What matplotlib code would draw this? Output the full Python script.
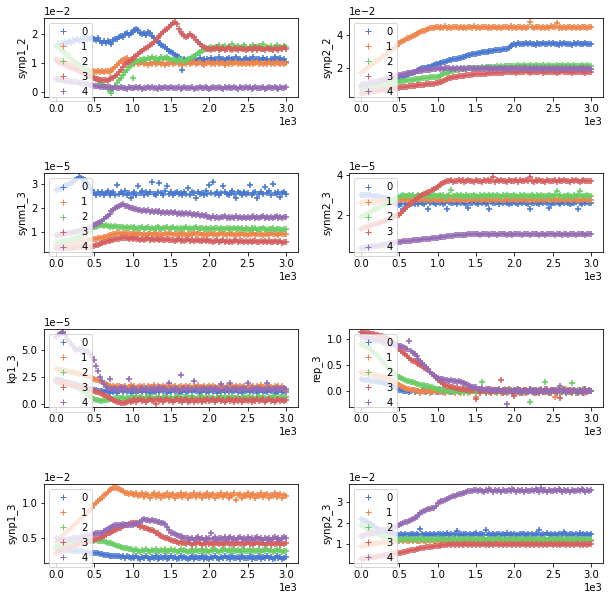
import matplotlib.pyplot as plt
import numpy as np
import seaborn as sns

# sample index (every 25th step of the run)
steps = np.arange(0, 3001, 25)
labels = ['0', '1', '2', '3', '4']

# values are in units of the axis offset (1e-2 / 1e-5 / 1)
synp1_2 = [
    [1.60, 1.66, 1.58, 1.70, 1.65, 1.74, 1.68, 1.78, 1.72, 1.80,
     1.76, 1.84, 1.78, 1.86, 1.80, 1.90, 1.82, 1.88, 1.84, 1.92,
     1.85, 1.80, 1.88, 1.76, 1.72, 1.78, 1.70, 1.76, 1.74, 1.68,
     1.80, 1.84, 1.86, 1.92, 1.95, 1.90, 2.00, 2.04, 1.98, 2.06,
     2.10, 2.14, 2.20, 2.16, 2.04, 2.00, 2.06, 1.98, 2.10, 2.04,
     1.95, 1.88, 1.80, 1.76, 1.70, 1.64, 1.60, 1.55, 1.48, 1.42,
     1.38, 1.34, 1.30, 1.24, 1.20, 1.16, 0.78, 1.14, 1.12, 1.08,
     1.14, 1.10, 1.16, 1.08, 1.12, 1.18, 1.10, 1.14, 1.08, 1.16,
     1.12, 1.18, 1.10, 1.15, 1.08, 1.20, 1.12, 1.16, 1.10, 1.14,
     1.18, 1.08, 1.14, 1.12, 1.20, 1.10, 1.16, 1.08, 1.14, 1.18,
     1.10, 1.15, 1.12, 1.20, 1.08, 1.14, 1.16, 1.10, 1.18, 1.12,
     1.14, 1.08, 1.16, 1.12, 1.20, 1.10, 1.14, 1.18, 1.08, 1.15,
     1.05],
    [1.15, 1.12, 1.10, 1.08, 1.05, 1.02, 1.00, 0.98, 0.95, 0.93,
     0.90, 0.88, 0.86, 0.84, 0.82, 0.80, 0.78, 0.76, 0.74, 0.73,
     0.72, 0.70, 0.74, 0.71, 0.73, 0.70, 0.74, 0.72, 0.70, 0.75,
     0.80, 0.88, 0.95, 1.02, 1.08, 1.12, 1.14, 1.18, 1.10, 1.06,
     1.02, 0.98, 1.03, 0.96, 1.00, 1.04, 0.97, 1.01, 0.95, 1.02,
     0.98, 1.03, 0.96, 1.01, 1.04, 0.97, 1.00, 0.95, 1.02, 0.99,
     1.03, 0.96, 1.00, 1.04, 0.98, 1.01, 0.95, 1.02, 0.99, 1.03,
     0.97, 1.01, 1.04, 0.96, 1.00, 1.03, 0.98, 0.95, 1.02, 1.00,
     1.04, 0.97, 1.01, 0.99, 1.03, 0.96, 1.00, 1.02, 0.95, 1.01,
     0.98, 1.03, 0.96, 1.01, 1.04, 0.97, 1.00, 0.99, 1.02, 0.96,
     1.01, 0.98, 1.04, 0.96, 1.00, 1.03, 0.97, 1.01, 0.99, 1.02,
     0.96, 1.03, 0.99, 1.01, 0.97, 1.04, 1.00, 0.98, 1.02, 0.97,
     1.00],
    [1.60, 1.56, 1.50, 1.46, 1.40, 1.35, 1.30, 1.24, 1.18, 1.12,
     1.05, 1.00, 0.95, 0.90, 0.85, 0.80, 0.74, 0.68, 0.62, 0.58,
     0.50, 0.46, 0.40, 0.34, 0.28, 0.22, 0.16, 0.10, 0.04, -0.04,
     0.10, 0.18, 0.30, 0.40, 0.50, 0.60, 0.70, 0.78, 0.86, 0.92,
     0.50, 1.00, 1.05, 1.08, 1.12, 1.10, 1.16, 1.12, 1.18, 1.14,
     1.20, 1.15, 1.18, 1.12, 1.16, 1.20, 1.14, 1.18, 1.22, 1.16,
     1.12, 1.16, 1.10, 1.08, 1.14, 1.10, 1.12, 1.06, 1.10, 1.14,
     1.16, 1.20, 1.24, 1.30, 1.34, 1.38, 1.42, 1.46, 1.50, 1.48,
     1.52, 1.56, 1.50, 1.58, 1.54, 1.62, 1.50, 1.56, 1.60, 1.52,
     1.58, 1.54, 1.66, 1.50, 1.56, 1.60, 1.54, 1.52, 1.62, 1.56,
     1.50, 1.58, 1.55, 1.62, 1.52, 1.56, 1.60, 1.54, 1.66, 1.52,
     1.58, 1.54, 1.60, 1.50, 1.56, 1.62, 1.54, 1.58, 1.52, 1.60,
     1.55],
    [1.10, 1.06, 1.02, 1.00, 0.96, 0.94, 0.90, 0.88, 0.85, 0.82,
     0.80, 0.76, 0.72, 0.70, 0.66, 0.64, 0.60, 0.57, 0.54, 0.52,
     0.48, 0.46, 0.44, 0.42, 0.42, 0.40, 0.41, 0.39, 0.45, 0.48,
     0.50, 0.55, 0.60, 0.68, 0.75, 0.86, 0.96, 1.00, 1.05, 1.10,
     1.14, 1.20, 1.26, 1.32, 1.38, 1.44, 1.48, 1.52, 1.56, 1.62,
     1.68, 1.74, 1.80, 1.88, 1.95, 2.02, 2.10, 2.15, 2.20, 2.26,
     2.33, 2.40, 2.45, 2.35, 2.20, 2.10, 2.00, 1.95, 1.90, 1.96,
     2.00, 1.96, 1.90, 1.82, 1.75, 1.68, 1.60, 1.56, 1.52, 1.50,
     1.50, 1.46, 1.52, 1.48, 1.55, 1.45, 1.50, 1.53, 1.47, 1.51,
     1.55, 1.48, 1.45, 1.52, 1.50, 1.46, 1.54, 1.48, 1.51, 1.45,
     1.50, 1.53, 1.47, 1.51, 1.55, 1.46, 1.52, 1.48, 1.50, 1.45,
     1.53, 1.48, 1.51, 1.46, 1.54, 1.50, 1.47, 1.52, 1.49, 1.55,
     1.50],
    [0.45, 0.44, 0.42, 0.41, 0.40, 0.39, 0.38, 0.37, 0.36, 0.35,
     0.35, 0.33, 0.32, 0.31, 0.30, 0.29, 0.28, 0.26, 0.25, 0.24,
     0.22, 0.21, 0.20, 0.19, 0.18, 0.18, 0.17, 0.16, 0.16, 0.15,
     0.14, 0.16, 0.13, 0.15, 0.17, 0.14, 0.15, 0.12, 0.16, 0.15,
     0.13, 0.15, 0.17, 0.14, 0.16, 0.12, 0.15, 0.14, 0.17, 0.13,
     0.16, 0.14, 0.15, 0.12, 0.17, 0.15, 0.13, 0.16, 0.14, 0.15,
     0.17, 0.13, 0.15, 0.14, 0.16, 0.12, 0.15, 0.17, 0.14, 0.13,
     0.15, 0.16, 0.12, 0.15, 0.14, 0.17, 0.13, 0.15, 0.16, 0.14,
     0.12, 0.15, 0.17, 0.14, 0.13, 0.16, 0.15, 0.12, 0.17, 0.14,
     0.16, 0.13, 0.15, 0.17, 0.14, 0.12, 0.16, 0.15, 0.13, 0.17,
     0.14, 0.16, 0.12, 0.15, 0.17, 0.13, 0.15, 0.14, 0.16, 0.12,
     0.15, 0.17, 0.14, 0.13, 0.16, 0.15, 0.12, 0.17, 0.14, 0.15,
     0.16],
]

synp2_2 = [
    [0.80, 0.83, 0.86, 0.88, 0.90, 0.93, 0.96, 0.98, 1.00, 1.03,
     1.05, 1.08, 1.10, 1.13, 1.15, 1.18, 1.20, 1.23, 1.26, 1.30,
     1.35, 1.40, 1.45, 1.50, 1.55, 1.60, 1.65, 1.70, 1.75, 1.80,
     1.85, 1.90, 1.95, 1.98, 2.00, 2.03, 2.05, 2.10, 2.15, 2.20,
     2.25, 2.28, 2.30, 2.33, 2.35, 2.40, 2.45, 2.48, 2.50, 2.52,
     2.55, 2.58, 2.60, 2.62, 2.65, 2.70, 2.75, 2.78, 2.80, 2.82,
     2.85, 2.88, 2.90, 2.92, 2.95, 2.95, 2.96, 2.98, 3.00, 3.02,
     3.05, 3.08, 3.10, 3.10, 3.12, 3.14, 3.15, 3.20, 3.30, 3.38,
     3.45, 3.40, 3.48, 3.43, 3.46, 3.41, 3.50, 3.44, 3.47, 3.42,
     3.46, 3.40, 3.48, 3.44, 3.42, 3.49, 3.45, 3.41, 3.47, 3.43,
     3.48, 3.42, 3.45, 3.40, 3.47, 3.44, 3.49, 3.41, 3.46, 3.43,
     3.40, 3.47, 3.44, 3.48, 3.42, 3.45, 3.41, 3.49, 3.43, 3.46,
     3.42],
    [1.70, 1.78, 1.86, 1.95, 2.04, 2.12, 2.20, 2.30, 2.38, 2.46,
     2.55, 2.64, 2.72, 2.80, 2.90, 2.98, 3.06, 3.15, 3.24, 3.32,
     3.48, 3.55, 3.62, 3.70, 3.77, 3.82, 3.87, 3.92, 3.96, 4.02,
     4.08, 4.14, 4.20, 4.25, 4.30, 4.34, 4.38, 4.40, 4.42, 4.44,
     4.45, 4.40, 4.48, 4.43, 4.50, 4.42, 4.46, 4.40, 4.48, 4.44,
     4.47, 4.41, 4.49, 4.43, 4.46, 4.40, 4.48, 4.44, 4.42, 4.50,
     4.43, 4.47, 4.41, 4.49, 4.44, 4.46, 4.40, 4.48, 4.43, 4.45,
     4.49, 4.42, 4.46, 4.40, 4.48, 4.44, 4.47, 4.41, 4.50, 4.43,
     4.46, 4.41, 4.48, 4.44, 4.42, 4.49, 4.43, 4.47, 4.80, 4.45,
     4.41, 4.48, 4.44, 4.46, 4.40, 4.49, 4.43, 4.47, 4.42, 4.50,
     4.44, 4.46, 4.70, 4.43, 4.48, 4.42, 4.46, 4.40, 4.49, 4.45,
     4.42, 4.47, 4.43, 4.49, 4.41, 4.46, 4.44, 4.48, 4.40, 4.45,
     4.44],
    [0.75, 0.77, 0.79, 0.81, 0.83, 0.85, 0.87, 0.89, 0.91, 0.93,
     0.95, 0.97, 0.99, 1.01, 1.03, 1.05, 1.07, 1.09, 1.11, 1.13,
     1.15, 1.17, 1.18, 1.20, 1.22, 1.23, 1.25, 1.27, 1.28, 1.30,
     1.32, 1.33, 1.35, 1.36, 1.38, 1.39, 1.40, 1.41, 1.42, 1.44,
     1.45, 1.50, 1.55, 1.60, 1.65, 1.70, 1.74, 1.77, 1.80, 1.83,
     1.85, 1.88, 1.90, 1.92, 1.93, 1.94, 1.95, 1.96, 1.97, 1.97,
     1.98, 2.00, 1.99, 2.02, 2.00, 2.04, 2.02, 2.05, 2.03, 2.06,
     2.04, 2.07, 2.05, 2.08, 2.06, 2.09, 2.07, 2.10, 2.08, 2.11,
     2.12, 2.08, 2.14, 2.10, 2.07, 2.13, 2.09, 2.11, 2.15, 2.08,
     2.10, 2.13, 2.07, 2.12, 2.09, 2.14, 2.08, 2.11, 2.13, 2.09,
     2.12, 2.08, 2.14, 2.10, 2.07, 2.13, 2.09, 2.11, 2.15, 2.08,
     2.10, 2.13, 2.07, 2.12, 2.09, 2.14, 2.08, 2.11, 2.13, 2.09,
     2.10],
    [0.45, 0.47, 0.48, 0.50, 0.52, 0.53, 0.55, 0.57, 0.58, 0.60,
     0.62, 0.63, 0.65, 0.67, 0.68, 0.70, 0.72, 0.73, 0.75, 0.77,
     0.78, 0.80, 0.82, 0.83, 0.85, 0.86, 0.88, 0.89, 0.90, 0.92,
     0.93, 0.94, 0.96, 0.97, 0.98, 0.99, 1.00, 1.02, 1.03, 1.05,
     1.07, 1.12, 1.15, 1.20, 1.25, 1.30, 1.35, 1.38, 1.40, 1.42,
     1.45, 1.48, 1.50, 1.51, 1.52, 1.54, 1.55, 1.57, 1.58, 1.59,
     1.60, 1.61, 1.62, 1.63, 1.63, 1.64, 1.65, 1.66, 1.66, 1.67,
     1.68, 1.69, 1.70, 1.70, 1.70, 1.71, 1.72, 1.72, 1.73, 1.73,
     1.74, 1.70, 1.76, 1.72, 1.75, 1.71, 1.77, 1.73, 1.70, 1.75,
     1.72, 1.76, 1.71, 1.74, 1.77, 1.70, 1.73, 1.75, 1.71, 1.74,
     1.76, 1.72, 1.70, 1.75, 1.73, 1.77, 1.71, 1.74, 1.72, 1.76,
     1.70, 1.74, 1.72, 1.76, 1.71, 1.73, 1.75, 1.70, 1.74, 1.72,
     1.73],
    [0.95, 0.98, 1.00, 1.03, 1.05, 1.08, 1.10, 1.13, 1.15, 1.18,
     1.20, 1.25, 1.28, 1.32, 1.35, 1.38, 1.40, 1.44, 1.48, 1.52,
     1.55, 1.57, 1.60, 1.62, 1.65, 1.67, 1.70, 1.72, 1.75, 1.77,
     1.80, 1.81, 1.82, 1.84, 1.85, 1.87, 1.88, 1.90, 1.92, 1.94,
     1.97, 1.94, 1.98, 1.93, 1.96, 2.00, 1.95, 1.92, 1.97, 1.94,
     1.96, 1.92, 1.98, 1.94, 1.97, 1.91, 1.95, 1.99, 1.93, 1.96,
     1.94, 1.98, 1.92, 1.96, 1.93, 1.97, 1.95, 1.91, 1.98, 1.94,
     1.97, 1.93, 1.95, 1.99, 1.92, 1.96, 1.94, 1.98, 1.93, 1.95,
     1.92, 1.96, 1.94, 1.98, 1.91, 1.95, 1.97, 1.93, 1.96, 1.94,
     1.98, 1.93, 1.95, 1.91, 1.96, 1.94, 1.97, 1.92, 1.95, 1.93,
     1.95, 1.91, 1.97, 1.93, 1.94, 1.98, 1.92, 1.95, 1.93, 1.96,
     1.93, 1.96, 1.92, 1.94, 1.97, 1.91, 1.95, 1.93, 1.96, 1.92,
     1.94],
]

synm1_3 = [
    [2.75, 2.78, 2.80, 2.84, 2.86, 2.90, 2.95, 3.00, 3.05, 3.10,
     3.15, 3.20, 3.30, 3.25, 3.22, 3.15, 3.05, 2.95, 2.85, 2.75,
     2.62, 2.55, 2.68, 2.58, 2.66, 2.52, 2.64, 2.70, 2.56, 2.62,
     2.68, 2.54, 2.95, 2.60, 2.66, 2.58, 2.72, 2.55, 2.64, 2.40,
     2.60, 2.68, 2.56, 2.92, 2.62, 2.70, 2.55, 2.65, 2.58, 2.68,
     3.08, 2.60, 2.54, 2.66, 3.05, 2.62, 2.56, 2.70, 2.90, 2.60,
     2.66, 2.55, 2.62, 2.68, 2.58, 2.64, 2.52, 2.66, 2.60, 2.85,
     2.56, 2.68, 2.62, 2.40, 2.66, 2.58, 2.64, 2.54, 2.70, 2.60,
     2.95, 2.62, 3.08, 2.58, 2.66, 2.54, 2.62, 2.90, 2.68, 2.60,
     2.56, 2.64, 2.70, 2.58, 2.40, 2.66, 2.62, 2.55, 2.68, 2.60,
     2.64, 2.95, 2.56, 2.62, 2.68, 2.40, 2.60, 2.66, 2.58, 2.88,
     2.62, 2.70, 2.56, 3.00, 2.64, 2.58, 2.66, 2.45, 2.62, 2.68,
     2.60],
    [0.45, 0.46, 0.47, 0.48, 0.50, 0.51, 0.52, 0.53, 0.55, 0.56,
     0.57, 0.58, 0.60, 0.61, 0.62, 0.63, 0.65, 0.66, 0.67, 0.68,
     0.70, 0.71, 0.72, 0.74, 0.75, 0.77, 0.80, 0.83, 0.85, 0.88,
     0.90, 0.92, 0.93, 0.94, 0.92, 0.93, 0.91, 0.94, 0.90, 0.92,
     0.89, 0.93, 0.87, 0.91, 0.94, 0.88, 0.92, 0.86, 0.90, 0.93,
     0.88, 0.91, 0.94, 0.87, 0.90, 0.92, 0.86, 0.93, 0.89, 0.91,
     0.94, 0.88, 0.90, 0.92, 0.87, 0.93, 0.89, 0.91, 0.86, 0.90,
     0.92, 0.87, 0.93, 0.89, 0.91, 0.94, 0.88, 0.90, 0.92, 0.86,
     0.90, 0.93, 0.88, 0.91, 0.87, 0.92, 0.94, 0.89, 0.90, 0.88,
     0.93, 0.89, 0.91, 0.86, 0.92, 0.90, 0.88, 0.93, 0.87, 0.91,
     0.88, 0.92, 0.90, 0.94, 0.87, 0.91, 0.89, 0.92, 0.86, 0.90,
     0.91, 0.87, 0.93, 0.89, 0.90, 0.92, 0.88, 0.94, 0.89, 0.91,
     0.90],
    [0.55, 0.56, 0.57, 0.58, 0.60, 0.61, 0.62, 0.64, 0.66, 0.68,
     0.70, 0.73, 0.76, 0.80, 0.85, 0.90, 0.95, 1.00, 1.05, 1.10,
     1.18, 1.22, 1.25, 1.27, 1.30, 1.26, 1.28, 1.24, 1.22, 1.25,
     1.20, 1.23, 1.19, 1.22, 1.18, 1.21, 1.17, 1.20, 1.16, 1.19,
     1.15, 1.19, 1.13, 1.17, 1.14, 1.20, 1.12, 1.16, 1.18, 1.13,
     1.17, 1.12, 1.16, 1.19, 1.14, 1.11, 1.17, 1.15, 1.18, 1.12,
     1.14, 1.18, 1.11, 1.16, 1.13, 1.17, 1.12, 1.15, 1.19, 1.13,
     1.16, 1.12, 1.15, 1.18, 1.11, 1.14, 1.17, 1.12, 1.15, 1.13,
     1.10, 1.15, 1.12, 1.17, 1.14, 1.11, 1.16, 1.13, 1.10, 1.15,
     1.13, 1.16, 1.10, 1.14, 1.12, 1.17, 1.11, 1.14, 1.09, 1.15,
     1.12, 1.08, 1.14, 1.11, 1.15, 1.09, 1.13, 1.10, 1.14, 1.11,
     1.09, 1.13, 1.11, 1.14, 1.08, 1.12, 1.10, 1.13, 1.09, 1.12,
     1.10],
    [0.30, 0.30, 0.31, 0.31, 0.32, 0.32, 0.33, 0.33, 0.34, 0.34,
     0.35, 0.35, 0.35, 0.36, 0.36, 0.37, 0.37, 0.38, 0.38, 0.39,
     0.40, 0.43, 0.46, 0.49, 0.52, 0.55, 0.58, 0.61, 0.63, 0.66,
     0.67, 0.68, 0.70, 0.71, 0.72, 0.73, 0.72, 0.74, 0.71, 0.73,
     0.70, 0.72, 0.68, 0.71, 0.67, 0.70, 0.66, 0.69, 0.72, 0.67,
     0.69, 0.65, 0.68, 0.71, 0.66, 0.68, 0.64, 0.67, 0.70, 0.65,
     0.64, 0.67, 0.62, 0.66, 0.69, 0.63, 0.65, 0.61, 0.66, 0.68,
     0.62, 0.65, 0.60, 0.64, 0.67, 0.61, 0.63, 0.66, 0.60, 0.64,
     0.60, 0.63, 0.58, 0.62, 0.65, 0.59, 0.61, 0.64, 0.57, 0.62,
     0.59, 0.63, 0.57, 0.61, 0.64, 0.58, 0.60, 0.62, 0.56, 0.61,
     0.58, 0.62, 0.56, 0.60, 0.63, 0.57, 0.59, 0.61, 0.55, 0.60,
     0.57, 0.61, 0.55, 0.59, 0.62, 0.56, 0.58, 0.60, 0.54, 0.59,
     0.58],
    [0.85, 0.86, 0.88, 0.89, 0.90, 0.92, 0.93, 0.95, 0.96, 0.98,
     1.00, 1.02, 1.04, 1.06, 1.08, 1.10, 1.12, 1.14, 1.18, 1.22,
     1.28, 1.33, 1.38, 1.40, 1.45, 1.52, 1.60, 1.68, 1.75, 1.85,
     1.92, 1.98, 2.04, 2.08, 2.12, 2.15, 2.10, 2.06, 2.02, 2.00,
     1.98, 1.94, 1.97, 1.91, 1.93, 1.88, 1.92, 1.86, 1.90, 1.84,
     1.88, 1.83, 1.87, 1.82, 1.86, 1.80, 1.84, 1.79, 1.83, 1.78,
     1.82, 1.77, 1.81, 1.76, 1.80, 1.75, 1.79, 1.74, 1.78, 1.73,
     1.77, 1.72, 1.75, 1.70, 1.74, 1.68, 1.71, 1.66, 1.69, 1.63,
     1.62, 1.58, 1.64, 1.59, 1.63, 1.57, 1.62, 1.60, 1.65, 1.58,
     1.61, 1.57, 1.63, 1.59, 1.64, 1.58, 1.62, 1.56, 1.61, 1.59,
     1.63, 1.57, 1.61, 1.65, 1.58, 1.62, 1.56, 1.60, 1.64, 1.59,
     1.61, 1.57, 1.63, 1.58, 1.60, 1.64, 1.57, 1.62, 1.59, 1.61,
     1.60],
]

synm2_3 = [
    [3.00, 3.01, 3.00, 2.99, 2.98, 2.97, 2.96, 2.95, 2.94, 2.92,
     2.90, 2.88, 2.85, 2.82, 2.78, 2.74, 2.70, 2.65, 2.60, 2.55,
     2.50, 2.52, 2.30, 2.55, 2.50, 2.57, 2.52, 2.59, 2.55, 2.62,
     2.56, 2.63, 2.58, 2.55, 2.62, 2.30, 2.57, 2.64, 2.59, 2.55,
     2.62, 2.58, 2.64, 2.56, 2.61, 2.30, 2.63, 2.57, 2.60, 2.65,
     2.56, 2.62, 2.58, 2.64, 2.59, 2.55, 2.35, 2.61, 2.57, 2.63,
     2.60, 2.55, 2.62, 2.58, 2.64, 2.56, 2.61, 2.30, 2.63, 2.57,
     2.60, 2.65, 2.56, 2.62, 2.58, 2.64, 2.59, 2.55, 2.61, 2.57,
     2.63, 2.59, 2.56, 2.62, 2.58, 2.64, 2.60, 2.55, 2.28, 2.61,
     2.57, 2.63, 2.59, 2.56, 2.62, 2.58, 2.64, 2.60, 2.32, 2.55,
     2.61, 2.57, 2.63, 2.59, 2.56, 2.62, 2.58, 2.64, 2.60, 2.55,
     2.61, 2.57, 2.63, 2.30, 2.59, 2.56, 2.62, 2.58, 2.64, 2.60,
     2.58],
    [2.60, 2.61, 2.62, 2.63, 2.63, 2.64, 2.65, 2.65, 2.66, 2.67,
     2.67, 2.68, 2.68, 2.69, 2.69, 2.70, 2.70, 2.71, 2.71, 2.72,
     2.72, 2.76, 2.73, 2.78, 2.74, 2.77, 2.72, 2.79, 2.75, 2.73,
     2.77, 2.74, 2.79, 2.72, 2.76, 2.78, 2.73, 2.75, 2.80, 2.74,
     2.76, 2.72, 2.78, 2.75, 2.73, 2.79, 2.74, 2.77, 2.72, 2.76,
     2.79, 2.73, 2.75, 2.78, 2.72, 2.76, 2.74, 2.80, 2.73, 2.77,
     2.74, 2.78, 2.72, 2.76, 2.79, 2.73, 2.77, 2.75, 2.72, 2.78,
     2.75, 2.73, 2.79, 2.74, 2.76, 2.72, 2.78, 2.75, 2.80, 2.73,
     2.77, 2.74, 2.72, 2.78, 2.75, 2.79, 2.73, 2.76, 2.74, 2.78,
     2.72, 2.76, 2.79, 2.73, 2.77, 2.75, 2.72, 2.78, 2.74, 2.76,
     2.79, 2.73, 2.75, 2.77, 2.72, 2.78, 2.74, 2.76, 2.80, 2.73,
     2.75, 2.78, 2.72, 2.76, 2.74, 2.79, 2.73, 2.77, 2.75, 2.72,
     2.76],
    [1.90, 1.95, 2.00, 2.05, 2.10, 2.15, 2.20, 2.25, 2.30, 2.35,
     2.40, 2.45, 2.50, 2.55, 2.60, 2.65, 2.70, 2.75, 2.80, 2.85,
     2.90, 2.94, 2.98, 2.92, 2.96, 3.00, 2.93, 2.97, 2.91, 2.95,
     2.99, 2.92, 2.96, 3.00, 2.93, 2.97, 2.91, 2.95, 2.98, 2.92,
     2.96, 3.00, 2.93, 2.97, 2.91, 2.95, 2.99, 3.25, 2.96, 2.92,
     2.97, 2.93, 3.00, 2.95, 2.91, 2.98, 2.94, 2.96, 2.92, 2.99,
     2.95, 2.91, 2.97, 2.93, 3.00, 2.96, 2.92, 2.98, 2.94, 2.97,
     2.93, 2.99, 2.95, 2.91, 2.97, 2.94, 3.00, 2.92, 2.96, 2.93,
     2.98, 2.94, 2.91, 2.97, 2.95, 2.99, 2.92, 2.96, 2.93, 2.98,
     2.95, 2.91, 2.97, 2.94, 3.00, 2.92, 2.96, 2.93, 2.98, 2.95,
     2.92, 2.97, 3.20, 2.94, 2.99, 2.91, 2.96, 2.93, 2.98, 2.95,
     2.91, 2.97, 2.94, 3.00, 3.20, 2.92, 2.96, 2.93, 2.98, 2.94,
     2.95],
    [1.30, 1.33, 1.36, 1.39, 1.42, 1.45, 1.48, 1.51, 1.54, 1.57,
     1.60, 1.64, 1.68, 1.72, 1.76, 1.80, 1.84, 1.88, 1.92, 1.96,
     2.00, 2.10, 2.20, 2.30, 2.39, 2.48, 2.57, 2.65, 2.73, 2.80,
     2.87, 2.94, 3.00, 3.04, 3.08, 3.12, 3.15, 3.22, 3.28, 3.34,
     3.40, 3.47, 3.53, 3.60, 3.66, 3.70, 3.68, 3.73, 3.66, 3.71,
     3.69, 3.74, 3.67, 3.72, 3.65, 3.70, 3.75, 3.68, 3.71, 3.66,
     3.73, 3.68, 3.70, 3.65, 3.74, 3.69, 3.72, 3.67, 3.71, 3.90,
     3.66, 3.72, 3.69, 3.74, 3.68, 3.70, 3.65, 3.73, 3.67, 3.71,
     3.69, 3.74, 3.66, 3.72, 3.68, 3.70, 3.73, 3.67, 3.90, 3.71,
     3.66, 3.72, 3.69, 3.74, 3.68, 3.70, 3.65, 3.73, 3.67, 3.71,
     3.69, 3.74, 3.66, 3.72, 3.68, 3.70, 3.73, 3.67, 3.71, 3.65,
     3.72, 3.68, 3.74, 3.69, 3.66, 3.71, 3.73, 3.67, 3.70, 3.68,
     3.70],
    [0.30, 0.32, 0.33, 0.35, 0.36, 0.38, 0.40, 0.41, 0.43, 0.44,
     0.46, 0.47, 0.49, 0.50, 0.52, 0.53, 0.55, 0.56, 0.58, 0.60,
     0.63, 0.64, 0.66, 0.67, 0.68, 0.69, 0.70, 0.71, 0.72, 0.73,
     0.74, 0.75, 0.76, 0.77, 0.78, 0.79, 0.80, 0.81, 0.82, 0.83,
     0.85, 0.86, 0.88, 0.89, 0.90, 0.91, 0.92, 0.93, 0.95, 0.96,
     0.97, 0.97, 0.98, 0.99, 1.00, 1.00, 1.01, 1.01, 1.02, 1.02,
     1.02, 1.04, 1.00, 1.03, 1.01, 1.05, 1.02, 0.99, 1.03, 1.01,
     1.04, 1.00, 1.02, 1.05, 1.01, 1.03, 0.99, 1.02, 1.04, 1.00,
     1.03, 1.01, 1.05, 1.02, 0.99, 1.04, 1.01, 1.03, 1.00, 1.02,
     1.05, 1.01, 1.03, 0.99, 1.02, 1.04, 1.00, 1.03, 1.01, 1.05,
     1.02, 0.99, 1.04, 1.01, 1.03, 1.00, 1.05, 1.02, 0.99, 1.03,
     1.01, 1.04, 1.00, 1.02, 1.05, 1.01, 1.03, 0.99, 1.02, 1.04,
     1.02],
]

kp1_3 = [
    [2.30, 2.25, 2.20, 2.15, 2.10, 2.05, 2.00, 1.95, 1.90, 1.85,
     1.80, 1.75, 1.70, 1.65, 1.60, 1.55, 1.50, 1.45, 1.40, 1.35,
     1.30, 1.25, 1.20, 1.15, 1.22, 1.10, 1.28, 1.16, 1.05, 1.24,
     1.12, 1.30, 1.02, 1.20, 1.35, 1.08, 1.25, 1.15, 1.38, 1.05,
     1.22, 1.32, 1.00, 1.18, 1.28, 1.10, 1.36, 1.14, 1.24, 1.04,
     1.30, 1.12, 1.20, 1.38, 1.06, 1.26, 1.16, 1.34, 1.02, 1.22,
     1.10, 1.28, 1.18, 1.36, 1.04, 1.24, 1.14, 1.32, 1.08, 1.20,
     1.34, 1.06, 1.26, 1.16, 1.38, 1.02, 1.22, 1.30, 1.12, 1.20,
     1.08, 1.28, 1.18, 1.36, 1.04, 1.24, 1.14, 1.32, 1.10, 1.26,
     1.20, 1.38, 1.06, 1.22, 1.30, 1.12, 1.34, 1.02, 1.24, 1.16,
     1.30, 1.10, 1.26, 1.18, 1.36, 1.04, 1.22, 1.32, 1.14, 1.20,
     1.06, 1.28, 1.16, 1.38, 1.02, 1.24, 1.14, 1.34, 1.10, 1.22,
     1.10],
    [3.20, 3.18, 3.15, 3.12, 3.10, 3.06, 3.02, 2.98, 2.95, 2.90,
     2.86, 2.82, 2.78, 2.74, 2.70, 2.65, 2.60, 2.55, 2.48, 2.40,
     2.30, 2.25, 2.18, 2.10, 2.00, 1.90, 1.80, 1.72, 1.65, 1.60,
     1.68, 1.52, 1.62, 1.70, 1.50, 1.58, 1.66, 1.48, 1.60, 1.72,
     1.54, 1.64, 1.46, 1.58, 1.70, 1.52, 1.62, 1.48, 1.68, 1.56,
     1.60, 1.72, 1.50, 1.64, 1.46, 1.58, 1.70, 1.54, 1.62, 1.48,
     1.66, 1.56, 1.70, 1.50, 1.60, 1.68, 1.46, 1.58, 1.64, 1.52,
     1.70, 1.48, 1.62, 1.56, 1.72, 1.50, 1.60, 1.66, 1.46, 1.58,
     1.64, 1.52, 1.68, 1.58, 1.48, 1.70, 1.56, 1.62, 1.50, 1.66,
     1.58, 1.72, 1.48, 1.60, 1.66, 1.52, 1.70, 1.56, 1.62, 1.46,
     1.68, 1.54, 1.60, 1.70, 1.50, 1.64, 1.56, 1.72, 1.48, 1.60,
     1.52, 1.66, 1.58, 1.48, 1.70, 1.56, 1.62, 1.50, 1.64, 1.40,
     1.25],
    [2.00, 1.98, 1.95, 1.92, 1.88, 1.84, 1.80, 1.76, 1.72, 1.66,
     1.60, 1.52, 1.42, 1.32, 1.20, 1.08, 0.96, 0.84, 0.72, 0.60,
     0.45, 0.40, 0.35, 0.30, 0.30, 0.34, 0.38, 0.40, 0.44, 0.48,
     0.50, 0.52, 0.48, 0.56, 0.54, 0.60, 0.50, 0.62, 0.58, 0.52,
     0.64, 0.56, 0.70, 0.50, 0.60, 0.66, 0.48, 0.62, 0.72, 0.54,
     0.60, 0.50, 0.68, 0.56, 0.64, 0.46, 0.62, 0.70, 0.52, 0.58,
     0.66, 0.48, 0.60, 0.72, 0.54, 0.62, 0.50, 0.68, 0.56, 0.64,
     0.52, 0.70, 0.58, 0.46, 0.64, 0.56, 0.72, 0.50, 0.62, 0.58,
     0.68, 0.54, 0.60, 0.48, 0.66, 0.58, 0.70, 0.52, 0.64, 0.56,
     0.62, 0.46, 0.70, 0.58, 0.54, 0.66, 0.50, 0.62, 0.72, 0.56,
     0.60, 0.68, 0.52, 0.64, 0.48, 0.60, 0.70, 0.54, 0.66, 0.58,
     0.50, 0.64, 0.58, 0.72, 0.54, 0.62, 0.48, 0.66, 0.56, 0.60,
     0.62],
    [2.10, 2.06, 2.02, 1.98, 1.95, 1.90, 1.86, 1.82, 1.78, 1.74,
     1.70, 1.65, 1.60, 1.56, 1.52, 1.48, 1.44, 1.38, 1.32, 1.26,
     1.20, 1.14, 1.08, 1.02, 0.95, 0.85, 0.75, 0.65, 0.56, 0.45,
     0.35, 0.28, 0.22, 0.16, 0.10, 0.05, 0.12, 0.20, 0.25, 0.18,
     0.30, 0.44, 0.22, 0.38, 0.50, 0.26, 0.40, 0.16, 0.34, 0.46,
     0.24, 0.38, 0.02, 0.42, 0.30, 0.50, 0.20, 0.36, 0.44, 0.28,
     0.40, 0.18, 0.34, 0.48, 0.26, 0.42, 0.14, 0.36, 0.50, 0.22,
     0.32, 0.46, 0.20, 0.38, 0.28, 0.44, 0.16, 0.40, 0.30, 0.48,
     0.24, 0.36, 0.42, 0.18, 0.34, 0.50, 0.26, 0.40, 0.20, 0.38,
     0.46, 0.28, 0.36, 0.14, 0.42, 0.30, 0.48, 0.22, 0.34, 0.40,
     0.26, 0.44, 0.18, 0.38, 0.32, 0.50, 0.24, 0.36, 0.42, 0.20,
     0.34, 0.48, 0.28, 0.40, 0.16, 0.38, 0.44, 0.26, 0.36, 0.30,
     0.40],
    [6.20, 6.30, 6.40, 6.50, 6.60, 6.30, 6.00, 5.80, 5.50, 5.30,
     5.10, 5.00, 5.05, 4.95, 5.00, 4.90, 4.85, 4.80, 4.60, 4.30,
     4.00, 3.50, 3.00, 2.50, 2.10, 1.80, 1.60, 1.50, 2.30, 1.40,
     1.35, 1.48, 1.28, 1.40, 1.52, 1.30, 1.44, 1.26, 2.30, 1.38,
     1.46, 1.30, 1.42, 1.24, 1.36, 1.50, 1.32, 1.44, 1.28, 1.40,
     1.34, 1.48, 1.26, 1.40, 1.52, 1.30, 1.44, 1.36, 1.28, 1.90,
     1.42, 1.30, 1.46, 1.36, 1.24, 2.70, 1.40, 1.50, 1.32, 1.44,
     1.28, 1.38, 2.10, 1.46, 1.30, 1.42, 1.34, 1.50, 1.26, 1.40,
     1.36, 1.48, 1.30, 1.44, 1.38, 1.26, 1.80, 1.42, 1.34, 1.50,
     1.30, 1.90, 1.40, 1.36, 1.46, 1.28, 1.42, 1.34, 1.50, 1.38,
     1.90, 1.32, 1.44, 1.28, 1.40, 1.48, 1.34, 1.42, 1.26, 1.38,
     1.90, 1.46, 1.30, 1.42, 1.36, 1.50, 1.28, 1.40, 1.34, 1.44,
     1.38],
]

rep_3 = [
    [0.23, 0.22, 0.22, 0.21, 0.21, 0.20, 0.20, 0.19, 0.19, 0.18,
     0.18, 0.17, 0.16, 0.15, 0.14, 0.13, 0.12, 0.10, 0.08, 0.06,
     0.03, 0.02, 0.01, 0.00, 0.01, -0.01, 0.00, 0.02, -0.01, 0.00,
     0.01, -0.02, 0.00, 0.02, -0.01, 0.00, 0.01, -0.02, 0.02, 0.00,
     -0.01, 0.02, 0.00, -0.02, 0.01, 0.00, 0.02, -0.01, 0.00, 0.01,
     0.00, -0.02, 0.01, 0.02, -0.01, 0.00, 0.01, -0.02, 0.00, 0.02,
     0.01, 0.00, -0.02, 0.01, 0.02, -0.01, 0.00, 0.01, -0.02, 0.00,
     0.02, -0.01, 0.00, 0.01, -0.02, 0.00, 0.02, -0.01, 0.01, 0.00,
     -0.02, 0.01, 0.00, 0.02, -0.01, 0.00, 0.01, -0.02, 0.00, 0.02,
     0.00, 0.01, -0.02, 0.00, 0.02, -0.01, 0.01, 0.00, -0.02, 0.01,
     0.02, 0.00, -0.01, 0.01, 0.00, -0.02, 0.02, 0.00, 0.01, -0.01,
     0.00, 0.02, -0.01, 0.00, 0.01, -0.02, 0.00, 0.02, -0.01, 0.01,
     0.00],
    [0.36, 0.35, 0.35, 0.34, 0.33, 0.33, 0.32, 0.31, 0.30, 0.29,
     0.28, 0.27, 0.26, 0.25, 0.24, 0.23, 0.21, 0.19, 0.17, 0.15,
     0.12, 0.10, 0.08, 0.06, 0.05, 0.04, 0.03, 0.02, 0.02, 0.01,
     0.00, -0.03, 0.02, -0.01, 0.03, 0.00, -0.04, 0.02, 0.01, -0.02,
     0.03, -0.01, 0.00, 0.04, -0.03, 0.01, -0.02, 0.02, 0.00, -0.04,
     0.02, 0.00, -0.03, 0.03, -0.01, 0.01, -0.04, 0.02, 0.00, 0.03,
     -0.12, 0.02, -0.02, 0.00, 0.03, -0.03, 0.01, -0.01, 0.04, 0.00,
     -0.02, 0.03, 0.00, -0.04, 0.02, 0.01, -0.03, 0.00, 0.03, -0.01,
     0.01, -0.03, 0.04, 0.00, -0.02, 0.02, -0.04, 0.01, 0.03, 0.00,
     -0.01, 0.02, 0.00, -0.03, 0.04, -0.02, 0.01, 0.00, -0.04, 0.03,
     0.00, -0.12, 0.02, 0.01, -0.03, 0.03, 0.00, -0.02, 0.02, -0.01,
     0.03, 0.00, -0.04, 0.02, -0.01, 0.01, 0.04, -0.03, 0.00, 0.02,
     0.00],
    [0.90, 0.88, 0.86, 0.84, 0.82, 0.80, 0.77, 0.74, 0.70, 0.66,
     0.62, 0.58, 0.54, 0.50, 0.46, 0.42, 0.38, 0.35, 0.32, 0.30,
     0.27, 0.25, 0.24, 0.22, 0.20, 0.19, 0.18, 0.17, 0.15, 0.14,
     0.13, 0.12, 0.12, 0.11, 0.10, 0.09, 0.08, 0.07, 0.06, 0.05,
     0.05, 0.04, 0.03, 0.02, 0.02, 0.01, 0.00, 0.03, -0.02, 0.01,
     0.03, -0.01, 0.00, 0.04, -0.03, 0.02, 0.00, -0.02, 0.03, 0.01,
     -0.02, 0.00, 0.04, 0.18, 0.01, -0.03, 0.02, 0.00, -0.01, 0.03,
     0.00, -0.03, 0.02, 0.01, -0.02, 0.04, 0.00, -0.01, 0.02, -0.03,
     0.03, 0.00, -0.02, 0.02, 0.01, -0.04, 0.03, 0.00, -0.20, 0.02,
     -0.01, 0.03, 0.00, -0.03, 0.02, 0.00, 0.17, -0.02, 0.01, 0.03,
     0.00, -0.02, 0.03, 0.01, -0.03, 0.02, 0.00, 0.04, -0.01, 0.02,
     0.15, 0.00, -0.03, 0.02, 0.01, -0.02, 0.03, 0.00, -0.01, 0.02,
     0.01],
    [1.12, 1.12, 1.11, 1.10, 1.10, 1.09, 1.08, 1.08, 1.07, 1.06,
     1.05, 1.04, 1.03, 1.02, 1.00, 0.98, 0.95, 0.92, 0.88, 0.85,
     0.80, 0.76, 0.73, 0.70, 0.66, 0.63, 0.60, 0.58, 0.57, 0.54,
     0.52, 0.50, 0.47, 0.44, 0.42, 0.40, 0.37, 0.33, 0.30, 0.26,
     0.22, 0.20, 0.17, 0.14, 0.12, 0.10, 0.09, 0.08, 0.07, 0.06,
     0.06, 0.05, 0.05, 0.04, 0.04, 0.03, 0.03, 0.02, 0.03, 0.02,
     -0.15, 0.02, -0.03, 0.03, 0.00, -0.02, 0.04, 0.01, -0.04, 0.02,
     0.00, 0.03, 0.00, 0.21, -0.03, 0.02, -0.01, 0.04, 0.00, -0.03,
     -0.10, 0.02, -0.01, 0.03, -0.04, 0.00, 0.02, -0.02, 0.04, 0.01,
     -0.03, 0.02, 0.00, -0.04, 0.03, 0.01, -0.02, 0.04, 0.00, -0.03,
     0.02, 0.00, -0.03, 0.03, -0.13, 0.01, 0.04, -0.02, 0.00, 0.02,
     -0.04, 0.03, 0.01, -0.02, 0.02, 0.00, -0.03, 0.04, -0.01, 0.02,
     0.00],
    [1.05, 1.03, 1.00, 1.02, 0.98, 1.00, 0.97, 0.99, 0.96, 0.97,
     0.95, 0.94, 0.93, 0.92, 0.91, 0.90, 0.90, 0.89, 0.88, 0.87,
     0.86, 0.85, 0.84, 0.82, 0.80, 0.95, 0.76, 0.73, 0.70, 0.66,
     0.62, 0.58, 0.54, 0.50, 0.46, 0.42, 0.37, 0.33, 0.29, 0.26,
     0.25, 0.24, 0.24, 0.23, 0.22, 0.22, 0.20, 0.21, 0.19, 0.20,
     0.18, 0.19, 0.17, 0.16, 0.15, 0.14, 0.12, 0.10, 0.08, 0.07,
     0.07, 0.05, 0.04, 0.06, 0.03, 0.05, 0.02, 0.04, 0.03, 0.01,
     0.03, 0.01, 0.04, 0.00, 0.02, -0.01, -0.24, 0.03, 0.01, -0.02,
     0.02, 0.00, 0.04, -0.03, 0.01, 0.03, -0.02, 0.00, 0.04, -0.01,
     0.02, -0.04, 0.01, 0.03, 0.00, -0.02, 0.04, 0.01, -0.03, 0.02,
     0.00, 0.03, -0.02, 0.04, 0.10, -0.01, 0.02, -0.04, 0.01, 0.03,
     -0.02, 0.02, 0.00, -0.04, 0.03, 0.01, -0.03, 0.04, 0.00, 0.02,
     0.01],
]

synp1_3 = [
    [0.36, 0.36, 0.35, 0.35, 0.35, 0.34, 0.34, 0.34, 0.33, 0.33,
     0.33, 0.32, 0.32, 0.32, 0.31, 0.31, 0.31, 0.31, 0.30, 0.30,
     0.30, 0.29, 0.29, 0.28, 0.28, 0.27, 0.27, 0.27, 0.26, 0.26,
     0.26, 0.25, 0.25, 0.25, 0.24, 0.26, 0.23, 0.25, 0.24, 0.22,
     0.24, 0.22, 0.25, 0.23, 0.21, 0.24, 0.22, 0.25, 0.23, 0.21,
     0.24, 0.22, 0.25, 0.21, 0.23, 0.24, 0.22, 0.25, 0.21, 0.23,
     0.25, 0.22, 0.24, 0.21, 0.23, 0.25, 0.22, 0.24, 0.23, 0.21,
     0.23, 0.25, 0.21, 0.24, 0.22, 0.23, 0.25, 0.21, 0.24, 0.22,
     0.21, 0.24, 0.23, 0.25, 0.22, 0.21, 0.24, 0.23, 0.25, 0.22,
     0.24, 0.21, 0.25, 0.22, 0.23, 0.24, 0.21, 0.25, 0.22, 0.23,
     0.22, 0.25, 0.21, 0.24, 0.23, 0.22, 0.25, 0.21, 0.24, 0.23,
     0.25, 0.22, 0.24, 0.21, 0.23, 0.25, 0.22, 0.24, 0.21, 0.23,
     0.24],
    [0.45, 0.47, 0.50, 0.52, 0.55, 0.57, 0.60, 0.62, 0.65, 0.67,
     0.70, 0.72, 0.75, 0.77, 0.80, 0.82, 0.85, 0.88, 0.90, 0.93,
     0.96, 0.99, 1.02, 1.05, 1.07, 1.10, 1.12, 1.15, 1.17, 1.19,
     1.20, 1.21, 1.20, 1.19, 1.18, 1.16, 1.14, 1.13, 1.12, 1.13,
     1.12, 1.10, 1.13, 1.09, 1.11, 1.14, 1.08, 1.12, 1.10, 1.07,
     1.11, 1.13, 1.08, 1.10, 1.12, 1.07, 1.11, 1.09, 1.13, 1.08,
     1.10, 1.12, 1.07, 1.11, 1.09, 1.13, 1.08, 1.10, 1.12, 1.07,
     1.11, 1.09, 1.13, 1.08, 1.10, 1.12, 1.07, 1.11, 1.09, 1.13,
     1.08, 1.10, 1.12, 1.07, 1.11, 1.09, 1.13, 1.08, 1.10, 1.12,
     1.07, 1.11, 1.09, 1.13, 1.04, 1.10, 1.12, 1.07, 1.11, 1.09,
     1.13, 1.08, 1.10, 1.12, 1.07, 1.11, 1.09, 1.13, 1.08, 1.10,
     1.12, 1.07, 1.11, 1.09, 1.13, 1.08, 1.10, 1.12, 1.07, 1.11,
     1.09],
    [0.38, 0.39, 0.40, 0.41, 0.42, 0.42, 0.43, 0.43, 0.44, 0.44,
     0.45, 0.45, 0.45, 0.46, 0.46, 0.46, 0.46, 0.47, 0.47, 0.47,
     0.47, 0.48, 0.47, 0.46, 0.47, 0.46, 0.45, 0.44, 0.44, 0.43,
     0.42, 0.41, 0.40, 0.39, 0.38, 0.37, 0.37, 0.36, 0.35, 0.35,
     0.34, 0.32, 0.35, 0.33, 0.31, 0.34, 0.32, 0.35, 0.33, 0.31,
     0.34, 0.32, 0.35, 0.31, 0.33, 0.34, 0.32, 0.35, 0.31, 0.33,
     0.35, 0.32, 0.34, 0.31, 0.33, 0.35, 0.32, 0.34, 0.33, 0.31,
     0.33, 0.35, 0.31, 0.34, 0.32, 0.33, 0.35, 0.31, 0.34, 0.32,
     0.31, 0.34, 0.33, 0.35, 0.32, 0.31, 0.34, 0.33, 0.35, 0.32,
     0.34, 0.31, 0.35, 0.32, 0.33, 0.34, 0.31, 0.35, 0.32, 0.33,
     0.32, 0.35, 0.31, 0.34, 0.33, 0.32, 0.35, 0.31, 0.34, 0.33,
     0.35, 0.32, 0.34, 0.31, 0.33, 0.35, 0.32, 0.34, 0.31, 0.33,
     0.32],
    [0.30, 0.31, 0.32, 0.33, 0.34, 0.35, 0.36, 0.37, 0.38, 0.39,
     0.40, 0.41, 0.42, 0.43, 0.44, 0.44, 0.45, 0.46, 0.47, 0.47,
     0.48, 0.49, 0.50, 0.51, 0.52, 0.54, 0.55, 0.57, 0.58, 0.59,
     0.60, 0.62, 0.63, 0.64, 0.65, 0.67, 0.68, 0.69, 0.70, 0.71,
     0.72, 0.71, 0.70, 0.68, 0.66, 0.67, 0.65, 0.64, 0.63, 0.62,
     0.61, 0.60, 0.58, 0.57, 0.55, 0.54, 0.52, 0.51, 0.50, 0.49,
     0.48, 0.47, 0.46, 0.45, 0.44, 0.45, 0.43, 0.44, 0.42, 0.45,
     0.43, 0.41, 0.44, 0.42, 0.45, 0.43, 0.41, 0.44, 0.42, 0.45,
     0.42, 0.44, 0.41, 0.45, 0.43, 0.42, 0.44, 0.41, 0.45, 0.43,
     0.44, 0.42, 0.45, 0.41, 0.43, 0.44, 0.42, 0.45, 0.41, 0.43,
     0.45, 0.42, 0.44, 0.41, 0.43, 0.45, 0.42, 0.44, 0.43, 0.41,
     0.43, 0.45, 0.41, 0.44, 0.42, 0.43, 0.45, 0.41, 0.44, 0.42,
     0.43],
    [0.50, 0.49, 0.48, 0.47, 0.47, 0.48, 0.48, 0.49, 0.49, 0.50,
     0.50, 0.51, 0.51, 0.52, 0.52, 0.53, 0.54, 0.54, 0.55, 0.55,
     0.56, 0.57, 0.57, 0.58, 0.58, 0.60, 0.62, 0.63, 0.64, 0.66,
     0.67, 0.68, 0.68, 0.69, 0.69, 0.70, 0.69, 0.68, 0.68, 0.69,
     0.68, 0.70, 0.71, 0.72, 0.73, 0.75, 0.77, 0.76, 0.75, 0.74,
     0.75, 0.74, 0.74, 0.73, 0.73, 0.72, 0.72, 0.70, 0.66, 0.62,
     0.58, 0.57, 0.56, 0.55, 0.54, 0.53, 0.52, 0.51, 0.50, 0.50,
     0.49, 0.51, 0.48, 0.50, 0.52, 0.49, 0.51, 0.48, 0.50, 0.49,
     0.51, 0.58, 0.49, 0.52, 0.48, 0.50, 0.51, 0.49, 0.52, 0.48,
     0.50, 0.52, 0.49, 0.51, 0.48, 0.50, 0.52, 0.49, 0.51, 0.48,
     0.52, 0.49, 0.51, 0.48, 0.50, 0.52, 0.49, 0.51, 0.48, 0.50,
     0.49, 0.51, 0.48, 0.50, 0.52, 0.49, 0.51, 0.48, 0.50, 0.52,
     0.50],
]

synp2_3 = [
    [2.20, 2.15, 2.10, 2.05, 2.00, 1.95, 1.90, 1.85, 1.80, 1.75,
     1.70, 1.66, 1.62, 1.58, 1.55, 1.52, 1.50, 1.48, 1.47, 1.46,
     1.45, 1.49, 1.44, 1.50, 1.46, 1.43, 1.48, 1.51, 1.45, 1.47,
     1.43, 1.75, 1.49, 1.45, 1.51, 1.44, 1.48, 1.46, 1.50, 1.43,
     1.47, 1.51, 1.44, 1.49, 1.46, 1.52, 1.43, 1.48, 1.45, 1.50,
     1.65, 1.46, 1.49, 1.43, 1.51, 1.47, 1.44, 1.50, 1.46, 1.48,
     1.52, 1.44, 1.47, 1.49, 1.43, 1.70, 1.46, 1.50, 1.45, 1.48,
     1.44, 1.51, 1.47, 1.43, 1.49, 1.46, 1.52, 1.45, 1.48, 1.44,
     1.50, 1.46, 1.43, 1.49, 1.47, 1.51, 1.44, 1.48, 1.46, 1.50,
     1.43, 1.47, 1.51, 1.70, 1.45, 1.49, 1.46, 1.52, 1.44, 1.48,
     1.46, 1.50, 1.43, 1.47, 1.51, 1.44, 1.60, 1.48, 1.45, 1.49,
     1.47, 1.43, 1.50, 1.46, 1.52, 1.44, 1.48, 1.45, 1.49, 1.46,
     1.47],
    [0.90, 0.92, 0.94, 0.96, 0.98, 1.00, 1.02, 1.04, 1.06, 1.07,
     1.08, 1.09, 1.10, 1.11, 1.12, 1.13, 1.14, 1.14, 1.15, 1.15,
     1.16, 1.19, 1.15, 1.20, 1.17, 1.14, 1.19, 1.16, 1.21, 1.15,
     1.18, 1.15, 1.20, 1.17, 1.14, 1.19, 1.16, 1.21, 1.15, 1.18,
     1.20, 1.16, 1.14, 1.19, 1.17, 1.21, 1.15, 1.18, 1.16, 1.20,
     1.15, 1.19, 1.17, 1.14, 1.20, 1.16, 1.18, 1.21, 1.15, 1.17,
     1.19, 1.14, 1.18, 1.16, 1.21, 1.15, 1.19, 1.17, 1.14, 1.20,
     1.16, 1.18, 1.15, 1.20, 1.17, 1.14, 1.19, 1.16, 1.21, 1.15,
     1.18, 1.15, 1.20, 1.17, 1.14, 1.19, 1.16, 1.21, 1.15, 1.18,
     1.20, 1.16, 1.14, 1.19, 1.17, 1.21, 1.15, 1.18, 1.16, 1.20,
     1.15, 1.19, 1.17, 1.14, 1.20, 1.16, 1.18, 1.21, 1.15, 1.17,
     1.19, 1.14, 1.18, 1.16, 1.21, 1.15, 1.19, 1.17, 1.14, 1.20,
     1.18],
    [1.90, 1.85, 1.80, 1.75, 1.70, 1.65, 1.60, 1.56, 1.52, 1.48,
     1.44, 1.41, 1.38, 1.35, 1.33, 1.31, 1.29, 1.27, 1.26, 1.25,
     1.23, 1.27, 1.21, 1.25, 1.28, 1.22, 1.26, 1.20, 1.24, 1.27,
     1.21, 1.25, 1.28, 1.22, 1.26, 1.20, 1.24, 1.27, 1.21, 1.25,
     1.28, 1.22, 1.26, 1.20, 1.24, 1.27, 1.21, 1.25, 1.28, 1.22,
     1.26, 1.20, 1.24, 1.27, 1.21, 1.25, 1.28, 1.22, 1.26, 1.20,
     1.24, 1.27, 1.21, 1.25, 1.28, 1.22, 1.26, 1.20, 1.24, 1.27,
     1.21, 1.25, 1.28, 1.22, 1.26, 1.20, 1.24, 1.27, 1.21, 1.25,
     1.28, 1.22, 1.26, 1.20, 1.24, 1.27, 1.21, 1.25, 1.28, 1.22,
     1.26, 1.20, 1.24, 1.27, 1.21, 1.25, 1.28, 1.22, 1.26, 1.20,
     1.24, 1.27, 1.21, 1.25, 1.28, 1.22, 1.26, 1.20, 1.24, 1.27,
     1.21, 1.25, 1.28, 1.22, 1.26, 1.20, 1.24, 1.27, 1.21, 1.25,
     1.23],
    [0.30, 0.32, 0.33, 0.35, 0.36, 0.38, 0.39, 0.41, 0.42, 0.44,
     0.45, 0.47, 0.48, 0.50, 0.51, 0.53, 0.54, 0.56, 0.57, 0.58,
     0.59, 0.61, 0.63, 0.65, 0.67, 0.69, 0.71, 0.73, 0.75, 0.77,
     0.79, 0.81, 0.83, 0.84, 0.86, 0.87, 0.88, 0.89, 0.91, 0.92,
     0.93, 0.94, 0.96, 0.97, 0.98, 0.99, 1.00, 0.98, 1.02, 0.99,
     1.01, 0.97, 1.03, 0.99, 1.00, 1.02, 0.98, 1.01, 0.97, 1.03,
     0.99, 1.02, 0.98, 1.00, 1.03, 0.97, 1.01, 0.99, 1.02, 0.98,
     1.00, 1.03, 0.97, 1.01, 0.99, 1.02, 0.98, 1.00, 1.03, 0.97,
     1.01, 0.99, 1.02, 0.98, 1.00, 1.03, 0.97, 1.01, 0.99, 1.02,
     0.98, 1.00, 1.03, 0.97, 1.01, 0.99, 1.02, 0.98, 1.00, 1.03,
     0.97, 1.01, 0.99, 1.02, 0.98, 1.00, 1.03, 0.97, 1.01, 0.99,
     1.02, 0.98, 1.00, 1.03, 0.97, 1.01, 0.99, 1.02, 0.98, 1.00,
     1.00],
    [1.40, 1.42, 1.44, 1.47, 1.49, 1.51, 1.53, 1.56, 1.58, 1.60,
     1.62, 1.64, 1.67, 1.69, 1.72, 1.75, 1.78, 1.80, 1.83, 1.86,
     1.92, 1.96, 2.00, 2.04, 2.08, 2.12, 2.16, 2.20, 2.24, 2.32,
     2.40, 2.48, 2.56, 2.60, 2.64, 2.68, 2.70, 2.72, 2.74, 2.80,
     2.96, 3.00, 3.04, 3.08, 3.12, 3.16, 3.20, 3.24, 3.28, 3.31,
     3.34, 3.37, 3.40, 3.43, 3.46, 3.49, 3.52, 3.54, 3.55, 3.56,
     3.57, 3.52, 3.60, 3.55, 3.50, 3.58, 3.53, 3.61, 3.56, 3.51,
     3.59, 3.54, 3.57, 3.50, 3.60, 3.55, 3.52, 3.58, 3.53, 3.61,
     3.56, 3.51, 3.59, 3.54, 3.57, 3.50, 3.60, 3.55, 3.52, 3.58,
     3.53, 3.61, 3.56, 3.51, 3.70, 3.54, 3.57, 3.50, 3.60, 3.55,
     3.52, 3.58, 3.53, 3.61, 3.56, 3.51, 3.59, 3.54, 3.57, 3.50,
     3.60, 3.55, 3.52, 3.58, 3.53, 3.61, 3.56, 3.51, 3.59, 3.54,
     3.56],
]

panels = [('synp1_2', synp1_2, 1e-2), ('synp2_2', synp2_2, 1e-2),
          ('synm1_3', synm1_3, 1e-5), ('synm2_3', synm2_3, 1e-5),
          ('kp1_3', kp1_3, 1e-5), ('rep_3', rep_3, 1.0),
          ('synp1_3', synp1_3, 1e-2), ('synp2_3', synp2_3, 1e-2)]

colors = sns.color_palette('muted')

fig, axes = plt.subplots(4, 2, figsize=(610 / 72, 599 / 72), dpi=72)
fig.subplots_adjust(left=0.0726, right=0.988, top=0.970, bottom=0.0606,
                    wspace=0.204, hspace=0.973)

for ax, (name, series, scale) in zip(axes.flat, panels):
    for i, vals in enumerate(series):
        ax.plot(steps, np.array(vals) * scale, '+', color=colors[i],
                label=labels[i], markeredgewidth=1.6)
    ax.set_ylabel(name)
    ax.ticklabel_format(style='sci', axis='both', scilimits=(0, 0))
    leg = ax.legend(loc='upper left')
    for h in leg.legend_handles:
        h.set_markeredgewidth(1.0)

fig.savefig('out.png', dpi=72)
